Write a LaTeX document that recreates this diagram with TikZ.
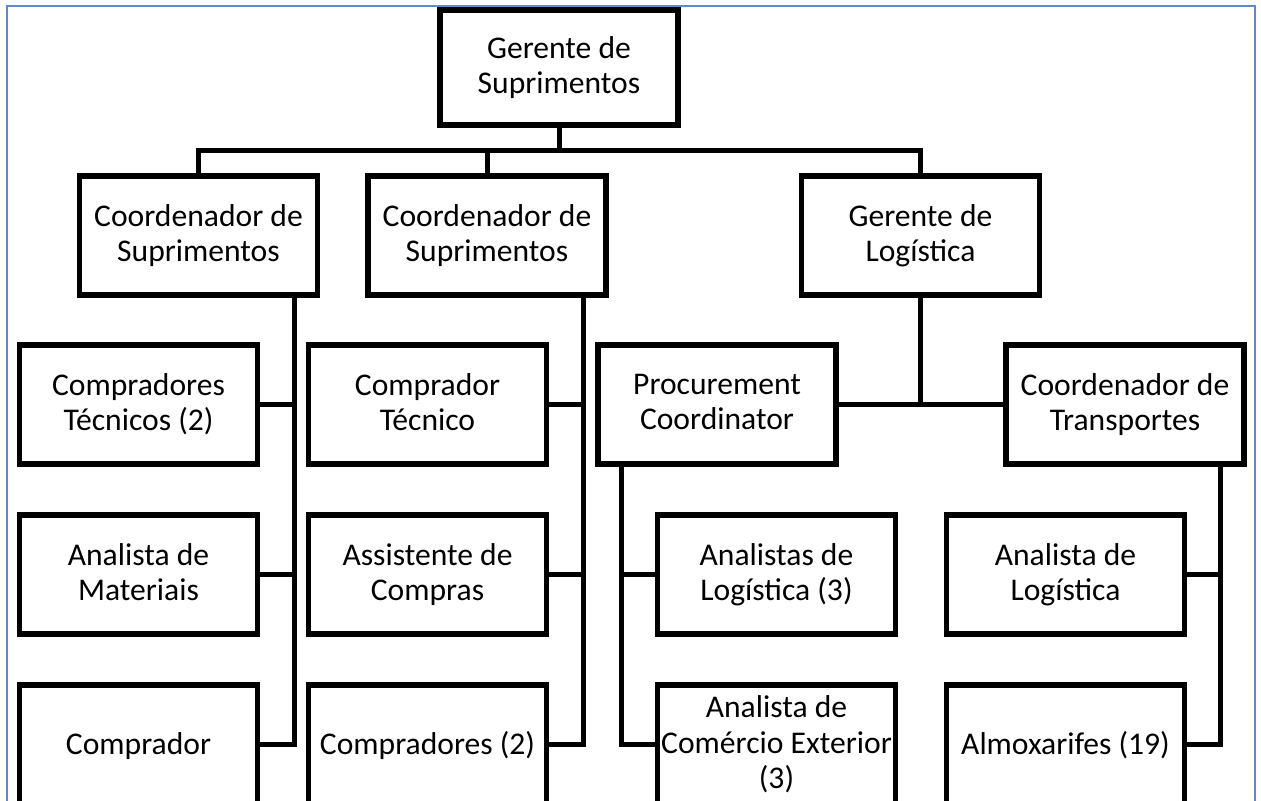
\documentclass[tikz,border=0pt]{standalone}
\usepackage{fontspec}
\setmainfont{Carlito}
\usetikzlibrary{backgrounds}
\definecolor{frameblue}{RGB}{95,140,200}
% strut that centres text on its capitals
\newcommand\bxstrut{\rule{0pt}{12.6pt}}
\begin{document}
\begin{tikzpicture}[x=0.5pt,y=-0.5pt,
  label text/.style={inner sep=0pt, align=center, font=\fontsize{15.8}{17.6}\selectfont,
    execute at begin node=\bxstrut, text depth=2.4pt},
  box/.style={label text, draw=black, line width=2.6pt, fill=white,
    minimum width=119pt, minimum height=59.5pt},
  link/.style={draw=black, line width=2.5pt, line join=miter}]
\useasboundingbox (0,0) rectangle (1261,801);
\clip (0,0) rectangle (1261,801);

% outer frame
\draw[frameblue, line width=0.8pt] (7,6) rectangle (1255,900);

% top
\node[box, minimum height=57.5pt] (gs) at (559,67.5) {Gerente de\\Suprimentos};

% second level
\node[box] (cs1) at (198.5,235.5) {Coordenador de\\Suprimentos};
\node[box] (cs2) at (487,235.5) {Coordenador de\\Suprimentos};
\node[box] (gl) at (920.5,235.5) {Gerente de\\Logística};

% third level, first row
\node[box] (ct2) at (138.5,404.5) {Compradores\\Técnicos (2)};
\node[box] (ct) at (427.5,404.5) {Comprador\\Técnico};
\node[box] (pc) at (717,404.5) {Procurement\\Coordinator};
\node[box] (ctr) at (1125,404.5) {Coordenador de\\Transportes};

% second row
\node[box] (am) at (138.5,574.5) {Analista de\\Materiais};
\node[box] (ac) at (427.5,574.5) {Assistente de\\Compras};
\node[box] (al3) at (776.5,574.5) {Analistas de\\Logística (3)};
\node[box] (al) at (1065.5,574.5) {Analista de\\Logística};

% third row
\node[box] (cp) at (138.5,744.5) {Comprador};
\node[box] (cp2) at (427.5,744.5) {Compradores (2)};
\node[box] (ace) at (776.5,744.5) {};
\node[label text] (acet) at (ace) {Analista de\\Comércio Exterior\\(3)};
\node[box] (alm) at (1065.5,744.5) {Almoxarifes (19)};

% connectors
\coordinate (bus) at (559,151);
\coordinate (t1) at (294,295);
\coordinate (t2) at (583,295);
\coordinate (t3) at (621,464.5);
\coordinate (t4) at (1220,464.5);
\begin{scope}[on background layer]
  \draw[link] (gs.south) -- (bus);
  \draw[link] (cs1.north) |- (bus) -| (gl.north);
  \draw[link] (cs2.north) -- (cs2.north |- bus);

  \draw[link] (t1) |- (cp.east);
  \draw[link] (ct2.east) -- (ct2.east -| t1);
  \draw[link] (am.east) -- (am.east -| t1);

  \draw[link] (t2) |- (cp2.east);
  \draw[link] (ct.east) -- (ct.east -| t2);
  \draw[link] (ac.east) -- (ac.east -| t2);

  \draw[link] (gl.south) |- (pc.east);
  \draw[link] (pc.east) -- (ctr.west);

  \draw[link] (t3) |- (ace.west);
  \draw[link] (al3.west) -- (al3.west -| t3);

  \draw[link] (t4) |- (alm.east);
  \draw[link] (al.east) -- (al.east -| t4);
\end{scope}
\end{tikzpicture}
\end{document}
